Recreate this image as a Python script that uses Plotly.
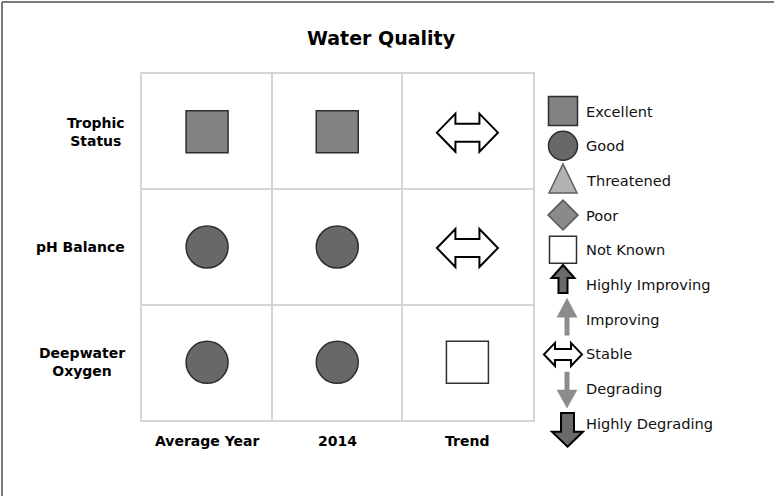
import plotly.graph_objects as go

# ---------------- data ----------------
TITLE = "Water Quality"
row_labels = ["Trophic<br>Status", "pH Balance", "Deepwater<br>Oxygen"]
col_labels = ["Average Year", "2014", "Trend"]
average_year = ["Excellent", "Good", "Good"]
year_2014 = ["Excellent", "Good", "Good"]
trend = ["Stable", "Stable", "Not Known"]
legend_labels = ["Excellent", "Good", "Threatened", "Poor", "Not Known",
                 "Highly Improving", "Improving", "Stable", "Degrading",
                 "Highly Degrading"]

columns = [average_year, year_2014, trend]

# ---------------- layout constants ----------------
W, H = 774, 496
FONT = "DejaVu Sans"
PLOT_L, PLOT_R, PLOT_T, PLOT_B = 142, 532.5, 74, 420
LEGEND_TOP, LEGEND_STEP = 111, 34.7
SWATCH_X, LEGEND_TEXT_X = 563, 584
GRID = "#d6d6d6"

MARKERS = {
    "Excellent": dict(symbol="square", color="#828282", line=dict(color="#2e2e2e", width=1.5)),
    "Good": dict(symbol="circle", color="#686868", line=dict(color="#2e2e2e", width=1.5)),
    "Poor": dict(symbol="diamond", color="#8a8a8a", line=dict(color="#5a5a5a", width=1.5)),
    "Not Known": dict(symbol="square", color="#ffffff", line=dict(color="#303030", width=1.5)),
}
TABLE_SIZE = {"Excellent": 42, "Good": 42, "Poor": 33, "Not Known": 42}
LEGEND_SIZE = {"Excellent": 29, "Good": 29, "Poor": 23, "Not Known": 27}


def poly(points):
    return "M " + " L ".join(f"{x},{y}" for x, y in points) + " Z"


def double_arrow(hw, head, hh, sh, dy=0.0):
    b = hw - head
    pts = [(-hw, 0), (-b, hh), (-b, sh), (b, sh), (b, hh), (hw, 0),
           (b, -hh), (b, -sh), (-b, -sh), (-b, -hh)]
    return poly([(x, y + dy) for x, y in pts])


def vert_arrow(tip, back, end, head_hw, shaft_hw, dx=0.0):
    pts = [(0, tip), (head_hw, back), (shaft_hw, back), (shaft_hw, end),
           (-shaft_hw, end), (-shaft_hw, back), (-head_hw, back)]
    return poly([(x + dx, y) for x, y in pts])


PATHS = {
    "Threatened": (poly([(-14, -12.5), (14, -12.5), (0, 16.5)]), "#b2b2b2", "#5e5e5e", 1.5),
    "Highly Improving": (vert_arrow(19.5, 6.5, -8.5, 11.5, 4.5), "#6a6a6a", "#000000", 2),
    "Improving": (vert_arrow(21, 2, -16, 10, 2.2, dx=4), "#8c8c8c", "#8c8c8c", 0.5),
    "Stable": (double_arrow(19, 11, 11.5, 5.5, dy=-0.5), "#ffffff", "#000000", 2),
    "Degrading": (vert_arrow(-19.4, -1.4, 16.6, 10, 2.2, dx=4), "#8c8c8c", "#8c8c8c", 0.5),
    "Highly Degrading": (vert_arrow(-23.4, -8.4, 10.3, 15.5, 6.5, dx=4.5), "#6a6a6a", "#000000", 2),
}
TABLE_PATHS = {
    "Stable": (double_arrow(30.5, 18.5, 19, 9, dy=-1), "#ffffff", "#000000", 2),
}

fig = go.Figure()
shapes = []

# ---------------- table marks ----------------
for status, style in MARKERS.items():
    xs, ys = [], []
    for j, col in enumerate(columns):
        for i, v in enumerate(col):
            if v == status:
                xs.append(j + 0.5)
                ys.append(i + 0.5)
    if xs:
        fig.add_trace(go.Scatter(
            x=xs, y=ys, mode="markers", xaxis="x", yaxis="y",
            marker=dict(symbol=style["symbol"], size=TABLE_SIZE[status],
                        color=style["color"], line=style["line"]),
            hoverinfo="skip", showlegend=False))

for j, col in enumerate(columns):
    for i, v in enumerate(col):
        if v in TABLE_PATHS:
            path, fill, lc, lw = TABLE_PATHS[v]
            shapes.append(dict(type="path", xref="x", yref="y",
                               xsizemode="pixel", ysizemode="pixel",
                               xanchor=j + 0.5, yanchor=i + 0.5, path=path,
                               fillcolor=fill, line=dict(color=lc, width=lw),
                               layer="above"))

# ---------------- legend ----------------
for idx, lab in enumerate(legend_labels):
    if lab in MARKERS:
        st = MARKERS[lab]
        fig.add_trace(go.Scatter(
            x=[SWATCH_X], y=[idx], mode="markers", xaxis="x2", yaxis="y2",
            marker=dict(symbol=st["symbol"], size=LEGEND_SIZE[lab],
                        color=st["color"], line=st["line"]),
            hoverinfo="skip", showlegend=False, cliponaxis=False))
    elif lab in PATHS:
        path, fill, lc, lw = PATHS[lab]
        shapes.append(dict(type="path", xref="x2", yref="y2",
                           xsizemode="pixel", ysizemode="pixel",
                           xanchor=SWATCH_X, yanchor=idx, path=path,
                           fillcolor=fill, line=dict(color=lc, width=lw),
                           layer="above"))

annotations = []
for idx, lab in enumerate(legend_labels):
    annotations.append(dict(text=lab, xref="x2", yref="y2", x=LEGEND_TEXT_X, y=idx,
                            xanchor="left", yanchor="middle", showarrow=False,
                            font=dict(family=FONT, size=14.6, color="#111111")))

for i, lab in enumerate(row_labels):
    annotations.append(dict(text=f"<b>{lab}</b>", xref="x", yref="y", x=0, y=i + 0.5,
                            xanchor="right", yanchor="middle", xshift=-15,
                            align="center", showarrow=False,
                            font=dict(family=FONT, size=14, color="#000000")))

for j, lab in enumerate(col_labels):
    annotations.append(dict(text=f"<b>{lab}</b>", xref="x", yref="y", x=j + 0.5,
                            y=len(row_labels), xanchor="center", yanchor="middle",
                            yshift=-21, showarrow=False,
                            font=dict(family=FONT, size=14, color="#000000")))

# figure frame (cropped: top and left edges only)
shapes.append(dict(type="line", xref="paper", yref="paper", x0=2 / W, x1=1,
                   y0=1 - 2 / H, y1=1 - 2 / H, line=dict(color="#7a7a7a", width=2)))
shapes.append(dict(type="line", xref="paper", yref="paper", x0=2 / W, x1=2 / W,
                   y0=0, y1=1 - 2 / H, line=dict(color="#7a7a7a", width=2)))

nrows, ncols = len(row_labels), len(col_labels)
xdom = [PLOT_L / W, PLOT_R / W]
ydom = [1 - PLOT_B / H, 1 - PLOT_T / H]

fig.update_layout(
    width=W, height=H,
    margin=dict(l=0, r=0, t=0, b=0, pad=0),
    paper_bgcolor="#ffffff", plot_bgcolor="rgba(0,0,0,0)",
    title=dict(text=f"<b>{TITLE}</b>", x=381 / W, xanchor="center",
               y=1 - 38 / H, yanchor="middle", xref="paper", yref="paper",
               font=dict(family=FONT, size=19, color="#000000")),
    xaxis=dict(domain=xdom, range=[0, ncols], showgrid=False, zeroline=False,
               showticklabels=False, ticks="", showline=True, mirror=True,
               linecolor=GRID, linewidth=2, fixedrange=True,
               minor=dict(tickvals=list(range(1, ncols)), showgrid=True,
                          gridcolor=GRID, gridwidth=2, ticks="")),
    yaxis=dict(domain=ydom, range=[nrows, 0], showgrid=False, zeroline=False,
               showticklabels=False, ticks="", showline=True, mirror=True,
               linecolor=GRID, linewidth=2, fixedrange=True,
               minor=dict(tickvals=list(range(1, nrows)), showgrid=True,
                          gridcolor=GRID, gridwidth=2, ticks="")),
    xaxis3=dict(overlaying="x", side="top", anchor="y", range=[0, ncols],
                showgrid=False, zeroline=False, showticklabels=False,
                tickvals=list(range(0, ncols + 1)), ticks="outside", ticklen=5,
                tickwidth=2, tickcolor="#b8b8b8", showline=True,
                linecolor="#a8a8a8", linewidth=2, fixedrange=True),
    xaxis2=dict(domain=[0, 1], range=[0, W], visible=False, fixedrange=True),
    yaxis2=dict(domain=[0, 1], anchor="x2",
                range=[(H - LEGEND_TOP) / LEGEND_STEP, -LEGEND_TOP / LEGEND_STEP],
                visible=False, fixedrange=True),
    shapes=shapes,
    annotations=annotations,
    showlegend=False,
)

fig.write_html("out.html", config={"displayModeBar": False},
               post_script="document.body.style.margin='0px';document.body.style.padding='0px';")
